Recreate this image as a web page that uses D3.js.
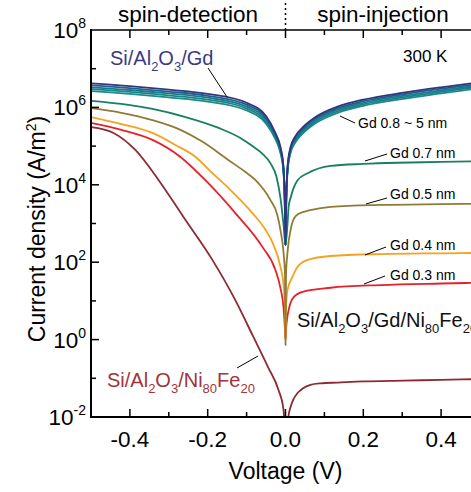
<!DOCTYPE html>
<html>
<head>
<meta charset="utf-8">
<script src="https://cdn.jsdelivr.net/npm/d3@7"></script>
<style>
  body { margin: 0; background: #fff; }
  svg text { font-family: "Liberation Sans", Arial, Helvetica, sans-serif; }
</style>
</head>
<body>
<div id="chart"></div>
<script>
// ---- data (voltage in V, current density as log10(A/m^2)) ----

// Si/Al2O3/Gd band (Gd 0.8 ~ 5 nm), shared voltage grid
var gdV = [-0.5, -0.4, -0.3, -0.2, -0.1, -0.05, -0.026, -0.013, -0.006, -0.002, 0,
           0.002, 0.006, 0.013, 0.025, 0.046, 0.08, 0.134, 0.2, 0.303, 0.4, 0.5];
var gdNavy  = [6.62, 6.55, 6.46, 6.35, 6.12, 5.78, 5.34, 4.98, 4.55, 3.70, 2.44,
               3.70, 4.55, 4.98, 5.25, 5.50, 5.77, 6.02, 6.20, 6.38, 6.52, 6.65];
var gdTeal1 = [6.57, 6.50, 6.41, 6.30, 6.07, 5.73, 5.30, 4.94, 4.52, 3.68, 2.44,
               3.68, 4.52, 4.94, 5.21, 5.46, 5.73, 5.98, 6.16, 6.34, 6.48, 6.61];
var gdTeal2 = [6.52, 6.45, 6.36, 6.25, 6.02, 5.68, 5.26, 4.90, 4.49, 3.66, 2.44,
               3.66, 4.49, 4.90, 5.17, 5.42, 5.69, 5.94, 6.12, 6.30, 6.44, 6.57];
var gdTeal3 = [6.47, 6.40, 6.31, 6.20, 5.97, 5.63, 5.22, 4.86, 4.46, 3.64, 2.44,
               3.64, 4.46, 4.86, 5.13, 5.38, 5.65, 5.90, 6.08, 6.26, 6.40, 6.54];
var gdTeal4 = [6.42, 6.35, 6.26, 6.15, 5.92, 5.58, 5.18, 4.82, 4.43, 3.62, 2.44,
               3.62, 4.43, 4.82, 5.09, 5.34, 5.61, 5.86, 6.04, 6.22, 6.36, 6.50];

// Gd 0.7 nm
var gd07V = [-0.5, -0.422, -0.342, -0.257, -0.172, -0.116, -0.085, -0.059, -0.039, -0.023, -0.013, -0.005, 0,
             0.005, 0.008, 0.013, 0.021, 0.031, 0.057, 0.116, 0.2, 0.288, 0.4, 0.5];
var gd07J = [6.17, 6.09, 5.96, 5.75, 5.47, 5.21, 5.00, 4.80, 4.56, 4.20, 3.66, 2.96, 2.44,
             2.96, 3.43, 3.66, 3.92, 4.12, 4.30, 4.49, 4.54, 4.57, 4.59, 4.61];

// Gd 0.5 nm
var gd05V = [-0.5, -0.422, -0.342, -0.27, -0.213, -0.147, -0.103, -0.077, -0.039, -0.021, -0.013, -0.005, -0.0013, 0,
             0.0013, 0.005, 0.013, 0.026, 0.046, 0.057, 0.116, 0.244, 0.4, 0.5];
var gd05J = [5.98, 5.86, 5.67, 5.42, 5.11, 4.64, 4.33, 4.12, 3.61, 3.22, 2.83, 2.24, 1.67, -0.14,
             1.67, 2.24, 2.83, 3.19, 3.30, 3.33, 3.43, 3.48, 3.50, 3.51];

// Gd 0.4 nm
var gd04V = [-0.5, -0.422, -0.342, -0.283, -0.231, -0.188, -0.147, -0.085, -0.051, -0.033, -0.013, -0.005, -0.0013, 0,
             0.0013, 0.005, 0.018, 0.031, 0.057, 0.116, 0.244, 0.4, 0.5];
var gd04J = [5.75, 5.57, 5.34, 5.03, 4.72, 4.30, 3.92, 3.27, 2.83, 2.50, 1.88, 1.41, 0.76, -0.01,
             0.76, 1.28, 1.62, 1.88, 2.06, 2.16, 2.21, 2.23, 2.24];

// Gd 0.3 nm
var gd03V = [-0.5, -0.422, -0.342, -0.27, -0.206, -0.129, -0.059, -0.026, -0.013, -0.005, -0.0013, 0,
             0.0013, 0.005, 0.008, 0.013, 0.021, 0.046, 0.116, 0.244, 0.4, 0.5];
var gd03J = [5.60, 5.42, 5.16, 4.72, 4.12, 3.27, 2.39, 1.80, 1.33, 0.82, 0.25, -0.01,
             0.25, 0.60, 0.76, 0.95, 1.10, 1.24, 1.34, 1.41, 1.45, 1.47];

// Si/Al2O3/Ni80Fe20
var nifeV = [-0.5, -0.442, -0.386, -0.326, -0.257, -0.188, -0.129, -0.085, -0.044, -0.018, -0.005, -0.001,
             0.004, 0.008, 0.013, 0.02, 0.031, 0.045, 0.064, 0.09, 0.134, 0.2, 0.303, 0.4, 0.5];
var nifeJ = [5.49, 5.34, 4.90, 4.12, 3.09, 2.06, 1.02, 0.12, -0.73, -1.30, -1.82, -2.34,
             -2.30, -1.95, -1.74, -1.55, -1.38, -1.26, -1.17, -1.13, -1.11, -1.08, -1.06, -1.04, -1.02];

var xTickValues = [-0.4, -0.2, 0.0, 0.2, 0.4];
var xTickLabels = ["-0.4", "-0.2", "0.0", "0.2", "0.4"];
var yExponents = [8, 6, 4, 2, 0, -2];

// ---- layout ----
var svgWidth = 471;
var svgHeight = 492;
var plot = { left: 91, right: 480, top: 30, bottom: 417 };

var svg = d3.select("#chart")
    .append("svg")
    .attr("width", svgWidth)
    .attr("height", svgHeight);

var xScale = d3.scaleLinear().domain([-0.5, 0.5]).range([plot.left, plot.right]);
var yScale = d3.scaleLog().domain([1e-2, 1e8]).range([plot.bottom, plot.top]);

svg.append("clipPath").attr("id", "plotclip")
    .append("rect")
    .attr("x", plot.left).attr("y", plot.top)
    .attr("width", plot.right - plot.left).attr("height", plot.bottom - plot.top);

var lineGen = d3.line()
    .x(d => xScale(d[0]))
    .y(d => yScale(Math.pow(10, d[1])))
    .curve(d3.curveMonotoneX);

function zip(vs, js) {
    return vs.map((v, i) => [v, js[i]]);
}

var series = [
    { v: nifeV, j: nifeJ, color: "#8c2b32" },
    { v: gd03V, j: gd03J, color: "#e8202a" },
    { v: gd04V, j: gd04J, color: "#f7a11c" },
    { v: gd05V, j: gd05J, color: "#8f7b36" },
    { v: gd07V, j: gd07J, color: "#177f62" },
    { v: gdV, j: gdTeal4, color: "#1b8a8c" },
    { v: gdV, j: gdTeal3, color: "#178488" },
    { v: gdV, j: gdTeal2, color: "#197a8a" },
    { v: gdV, j: gdTeal1, color: "#1e628c" },
    { v: gdV, j: gdNavy, color: "#30367f" }
];

var curves = svg.append("g").attr("clip-path", "url(#plotclip)");
series.forEach(function (s) {
    curves.append("path")
        .attr("d", lineGen(zip(s.v, s.j)))
        .attr("fill", "none")
        .attr("stroke", s.color)
        .attr("stroke-width", 1.8);
});

// ---- axes ----
var axisG = svg.append("g").attr("stroke", "#000");

// left + bottom + top axis lines
axisG.append("line").attr("x1", plot.left).attr("x2", plot.left)
    .attr("y1", plot.top - 1).attr("y2", plot.bottom + 1).attr("stroke-width", 2);
axisG.append("line").attr("x1", plot.left - 1).attr("x2", plot.right)
    .attr("y1", plot.bottom).attr("y2", plot.bottom).attr("stroke-width", 2);
axisG.append("line").attr("x1", plot.left - 1).attr("x2", plot.right)
    .attr("y1", plot.top).attr("y2", plot.top).attr("stroke-width", 1.5);

// x ticks (major 0.2, minor 0.1), bottom and top, inward
d3.range(-4, 5).forEach(function (k) {
    var v = k / 10;
    var major = (k % 2 === 0);
    var len = major ? 8 : 5;
    var x = xScale(v);
    axisG.append("line").attr("x1", x).attr("x2", x)
        .attr("y1", plot.bottom).attr("y2", plot.bottom - len).attr("stroke-width", 1.5);
    axisG.append("line").attr("x1", x).attr("x2", x)
        .attr("y1", plot.top).attr("y2", plot.top + len).attr("stroke-width", 1.5);
});

// y ticks every decade, longer at labelled ones
d3.range(-1, 8).forEach(function (e) {
    var y = yScale(Math.pow(10, e));
    var len = (e % 2 === 0) ? 8 : 5;
    axisG.append("line").attr("x1", plot.left).attr("x2", plot.left + len)
        .attr("y1", y).attr("y2", y).attr("stroke-width", 1.5);
});

// x tick labels
svg.selectAll(".xlab")
    .data(xTickValues)
    .enter()
    .append("text")
    .attr("class", "xlab")
    .attr("x", d => xScale(d))
    .attr("y", 447)
    .attr("text-anchor", "middle")
    .attr("font-size", 22.5)
    .text((d, i) => xTickLabels[i]);

// y tick labels 10^n
yExponents.forEach(function (e) {
    var y = yScale(Math.pow(10, e));
    var t = svg.append("text")
        .attr("x", 86)
        .attr("y", y + 8)
        .attr("text-anchor", "end")
        .attr("font-size", 22.5);
    t.append("tspan").text("10");
    t.append("tspan").attr("font-size", 14).attr("dy", -10).text(e);
});

// axis titles
svg.append("text")
    .attr("x", xScale(0))
    .attr("y", 479)
    .attr("text-anchor", "middle")
    .attr("font-size", 23)
    .text("Voltage (V)");

var yTitle = svg.append("text")
    .attr("transform", "translate(45, 229) rotate(-90)")
    .attr("text-anchor", "middle")
    .attr("font-size", 23);
yTitle.append("tspan").text("Current density (A/m");
yTitle.append("tspan").attr("font-size", 14).attr("dy", -9).text("2");
yTitle.append("tspan").attr("dy", 9).text(")");

// top region labels and dotted divider
svg.append("line")
    .attr("x1", xScale(0)).attr("x2", xScale(0))
    .attr("y1", 3).attr("y2", plot.top)
    .attr("stroke", "#000").attr("stroke-width", 1.5)
    .attr("stroke-dasharray", "2,3");
svg.append("text").attr("x", 188).attr("y", 22).attr("text-anchor", "middle")
    .attr("font-size", 22.5).text("spin-detection");
svg.append("text").attr("x", 383).attr("y", 22).attr("text-anchor", "middle")
    .attr("font-size", 22.5).text("spin-injection");

svg.append("text").attr("x", 403).attr("y", 62).attr("font-size", 17).text("300 K");

// chemical formula labels with subscripts
function formula(x, y, parts, color, size) {
    var t = svg.append("text").attr("x", x).attr("y", y)
        .attr("font-size", size).attr("fill", color);
    var sub = false;
    parts.forEach(function (p) {
        var isSub = typeof p === "object";
        var span = t.append("tspan").text(isSub ? p.s : p);
        if (isSub && !sub) span.attr("dy", 6).attr("font-size", size * 0.65);
        else if (isSub) span.attr("font-size", size * 0.65);
        else if (sub) span.attr("dy", -6);
        sub = isSub;
    });
    return t;
}

formula(110, 65, ["Si/Al", { s: "2" }, "O", { s: "3" }, "/Gd"], "#3a3a85", 20);
formula(297, 327, ["Si/Al", { s: "2" }, "O", { s: "3" }, "/Gd/Ni", { s: "80" }, "Fe", { s: "20" }], "#111", 20);
formula(107, 387, ["Si/Al", { s: "2" }, "O", { s: "3" }, "/Ni", { s: "80" }, "Fe", { s: "20" }], "#a0343c", 20);

// Gd thickness labels
var gdLabels = [
    { text: "Gd 0.8 ~ 5 nm", x: 358, y: 128, lx1: 340, ly1: 116, lx2: 355, ly2: 123 },
    { text: "Gd 0.7 nm", x: 390, y: 158, lx1: 365, ly1: 161, lx2: 387, ly2: 154 },
    { text: "Gd 0.5 nm", x: 390, y: 199, lx1: 366, ly1: 204, lx2: 387, ly2: 198 },
    { text: "Gd 0.4 nm", x: 390, y: 250, lx1: 365, ly1: 255, lx2: 386, ly2: 247 },
    { text: "Gd 0.3 nm", x: 390, y: 280, lx1: 364, ly1: 284, lx2: 385, ly2: 276 }
];
gdLabels.forEach(function (d) {
    svg.append("line").attr("x1", d.lx1).attr("y1", d.ly1).attr("x2", d.lx2).attr("y2", d.ly2)
        .attr("stroke", "#000").attr("stroke-width", 1);
    svg.append("text").attr("x", d.x).attr("y", d.y).attr("font-size", 14).text(d.text);
});

// leader lines for formula labels
svg.append("line").attr("x1", 208).attr("y1", 68).attr("x2", 227).attr("y2", 97)
    .attr("stroke", "#000").attr("stroke-width", 1);
svg.append("line").attr("x1", 237).attr("y1", 368).attr("x2", 258).attr("y2", 356)
    .attr("stroke", "#000").attr("stroke-width", 1);
</script>
</body>
</html>
